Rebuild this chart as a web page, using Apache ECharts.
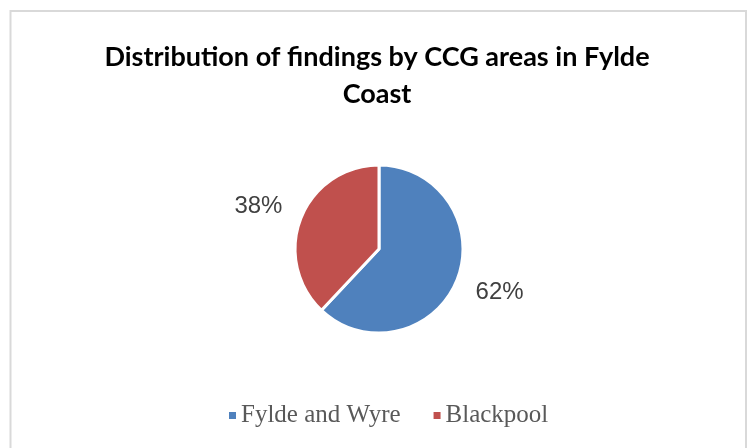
<!DOCTYPE html>
<html>
<head>
<meta charset="utf-8">
<script src="https://cdn.jsdelivr.net/npm/echarts@6/dist/echarts.min.js"></script>
<style>
html,body{margin:0;padding:0;background:#fff;}
#chart{width:754px;height:448px;}
</style>
</head>
<body>
<div id="chart"></div>
<script>
const titleText = "Distribution of findings by CCG areas in Fylde\nCoast";
const categories = ["Fylde and Wyre", "Blackpool"];
const values = [62, 38];
const colors = ["#4F81BD", "#C0504D"];

const data = categories.map((c, i) => ({ name: c, value: values[i] }));

const chart = echarts.init(document.getElementById('chart'), null, { renderer: 'canvas' });
chart.setOption({
  backgroundColor: '#ffffff',
  animation: false,
  color: colors,
  graphic: [{
    type: 'rect', silent: true, z: -10,
    shape: { x: 10.5, y: 11, width: 735.5, height: 470 },
    style: { fill: '#ffffff', stroke: '#D9D9D9', lineWidth: 2 }
  }],
  title: {
    text: titleText,
    left: 'center',
    top: 34,
    textStyle: { fontFamily: 'Lato', fontWeight: 'bold', fontSize: 27, lineHeight: 37, color: '#000000' }
  },
  legend: {
    data: categories,
    left: 222,
    top: 397.5,
    icon: 'rect',
    itemWidth: 9,
    itemHeight: 9,
    itemGap: 31,
    textStyle: { fontFamily: 'Liberation Serif', fontSize: 25, lineHeight: 26, color: '#595959', padding: [0, 0, 0, -1] }
  },
  series: [
    {
      type: 'pie',
      center: [379, 249],
      radius: [0, 84],
      startAngle: 90,
      clockwise: true,
      silent: true,
      label: { show: false },
      labelLine: { show: false },
      itemStyle: { borderColor: '#ffffff', borderWidth: 3 },
      data: data
    },
    {
      type: 'pie',
      center: [379, 249],
      radius: [84, 166],
      startAngle: 92,
      clockwise: true,
      silent: true,
      itemStyle: { color: 'rgba(0,0,0,0)' },
      label: {
        show: true, position: 'inside', formatter: '{d}%',
        fontFamily: 'Liberation Sans', fontSize: 24, color: '#404040'
      },
      labelLine: { show: false },
      data: data
    }
  ]
});
</script>
</body>
</html>
